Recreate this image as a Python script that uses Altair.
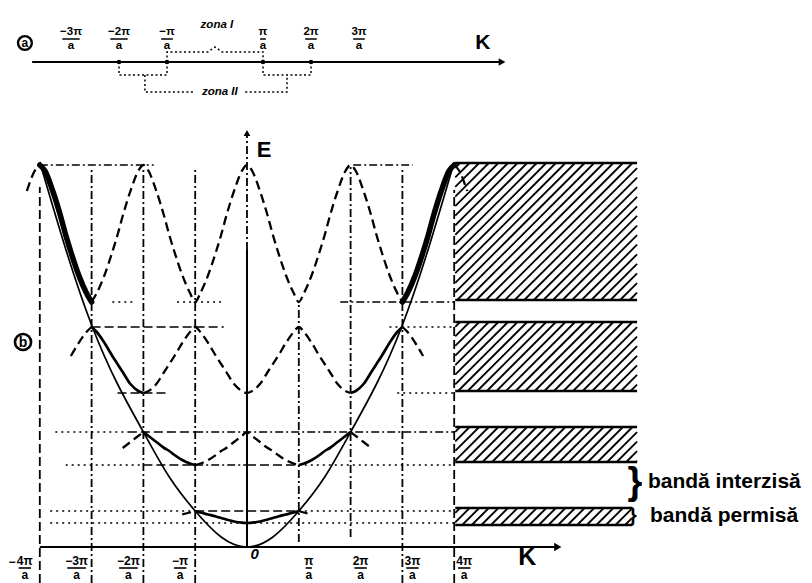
import math
import altair as alt
import pandas as pd

# ---------------- values ----------------
# (b) reduced-zone band curves: energy (arb. units) versus the distance d (in pi/a)
#     from the nearest even multiple of pi/a
D_GRID = [0, 0.1, 0.25, 0.4, 0.5, 0.6, 0.75, 0.9, 1.0]
BAND1_E = [24, 24.3, 25.5, 27.5, 29, 30.5, 32.5, 34.5, 36]
BAND2_E = [115, 111, 105, 99, 96, 92, 87, 83.5, 82]
BAND3_E = [154, 156, 163, 175, 183, 191, 204, 215, 220]
BAND4_E = [382, 376, 356, 331, 312, 295, 272, 254, 245]
BAND_REACH = [1.25, 2.4, 3.4, 4.25]

# free-electron parabola
PARAB_K = [-4, -3.5, -3, -2.5, -2, -1.5, -1, -0.5, 0, 0.5, 1, 1.5, 2, 2.5, 3, 3.5, 4]
PARAB_E = [385, 298, 222, 163, 115, 70, 36, 10, 0, 10, 36, 70, 115, 163, 222, 298, 385]

# allowed bands (hatched)
ALLOWED_LO = [247, 156, 85, 22]
ALLOWED_HI = [384, 225, 120, 39]
ALLOWED_K0 = [4.02, 4.02, 4.02, 4.02]
ALLOWED_K1 = [7.53, 7.53, 7.53, 7.43]

# horizontal guide lines: energy, from K, to K, style
HG_E = [382, 382, 245, 245, 245, 220, 220, 154, 154, 115, 115, 115, 82, 82, 82, 82, 82, 36, 36, 36, 24]
HG_K1 = [-4.0, 2.05, -2.6, -1.35, 1.8, -3.0, 2.75, -2.5, 2.9, -3.7, -2.3, -1.0, -3.5, -2.0, -1.0, 0.0, 1.0, -3.8, -1.0, 1.0, -3.8]
HG_K2 = [-1.8, 3.2, -2.15, -0.5, 4.0, -0.45, 4.0, -1.5, 4.0, -2.3, -1.0, 4.0, -2.0, -1.0, 0.0, 1.0, 4.0, -1.0, 1.0, 4.0, 4.0]
HG_STYLE = ["dashdot", "dashdot", "dot", "dot", "dashdot", "dash", "dot", "dash", "dot", "dot", "dash", "dashdot",
            "dot", "dash", "dashdot", "dash", "dot", "dot", "dash", "dot", "dot"]

# vertical guide lines: K, from E, to E, style
VG_K = [-4, -3, -2, -1, 1, 2, 3, 4, 0]
VG_E1 = [-36, -36, -36, -36, 5, 10, -36, -36, 297]
VG_E2 = [360, 380, 380, 380, 245, 380, 380, 357, 414]
VG_STYLE = ["dash", "dashdot", "dashdot", "dashdot", "dashdot", "dashdot", "dashdot", "dash", "dashdot"]

E_AXIS_TOP_SOLID = 297
E_AXIS_TIP = 414
K_AXIS_START = -4
K_AXIS_END = 6.0

BOT_TICK_K = [-4, -3, -2, -1, 1, 2, 3, 4]
BOT_TICK_NUM = ["4π", "−3π", "−2π", "−π", "π", "2π", "3π", "4π"]

# (a) one-dimensional K axis with the Brillouin zones
TOP_TICK_K = [-3, -2, -1, 1, 2, 3]
TOP_TICK_NUM = ["−3π", "−2π", "−π", "π", "2π", "3π"]
ZONE_BOUNDS = [-2, -1, 1, 2]
TOP_AXIS_START = -3.81
TOP_AXIS_END = 5.98
Z1_K = [-1, -1, -0.15, 0, 0.15, 1, 1]
Z1_V = [0, 10, 10, 15, 10, 10, 0]
Z2L_K = [-2, -2, -1, -1]
Z2L_V = [0, -13, -13, 0]
Z2R_K = [1, 1, 2, 2]
Z2R_V = [0, -13, -13, 0]
Z2CL_K = [-1.46, -1.46, -0.42]
Z2CL_V = [-13, -30, -30]
Z2CR_K = [0.63, 1.5, 1.5]
Z2CR_V = [-30, -30, -13]

FONT = "Liberation Sans"
BLACK = "#000000"

# ---------------- scales ----------------
W = 796
HT = 112
HB = 463
XB_DOM = [-4.614, 10.753]
YB_DOM = [-36, 427]
XT_DOM = [-4.3125, 12.271]
YT_DOM = [-58, 54]
XB = alt.Scale(domain=XB_DOM, nice=False, zero=False)
YB = alt.Scale(domain=YB_DOM, nice=False, zero=False)
XT = alt.Scale(domain=XT_DOM, nice=False, zero=False)
YT = alt.Scale(domain=YT_DOM, nice=False, zero=False)
PX_PER_K = W / (XB_DOM[1] - XB_DOM[0])
PX_PER_KT = W / (XT_DOM[1] - XT_DOM[0])

STYLES = ["dash", "dashdot", "dot"]
DASHES = [[9, 4], [8, 3, 2, 3], [2, 4]]


def xb(f):
    return alt.X(f, type="quantitative", scale=XB, axis=None)


def yb(f):
    return alt.Y(f, type="quantitative", scale=YB, axis=None)


def xt(f):
    return alt.X(f, type="quantitative", scale=XT, axis=None)


def yt(f):
    return alt.Y(f, type="quantitative", scale=YT, axis=None)


dash_enc = alt.StrokeDash("style:N", scale=alt.Scale(domain=STYLES, range=DASHES), legend=None)

# ---------------- panel (b) tables ----------------
curve_rows = []
for n, (prof, reach) in enumerate(zip([BAND1_E, BAND2_E, BAND3_E, BAND4_E], BAND_REACH), start=1):
    pts = {}
    jmax = math.ceil(reach)
    for j in range(-jmax, jmax):
        for t, dv in enumerate(D_GRID):
            k = round(j + dv, 4)
            if abs(k) <= reach + 1e-9:
                idx = t if j % 2 == 0 else len(D_GRID) - 1 - t
                pts[k] = prof[idx]
    ks = sorted(pts)
    segs = [(-reach, -n, "dash"), (-n, -(n - 1), "solid"), (-(n - 1), n - 1, "dash"),
            (n - 1, n, "solid"), (n, reach, "dash")]
    for i, (a, b, st) in enumerate(segs):
        if b - a < 1e-9:
            continue
        if st == "solid" and n == 4:
            st = "heavy"
        for k in ks:
            if a - 1e-9 <= k <= b + 1e-9:
                curve_rows.append(dict(k=k, e=pts[k], seg=f"{n}-{i}", style=st))
curves = pd.DataFrame(curve_rows)

parab = pd.DataFrame({"k": PARAB_K, "e": PARAB_E})

# hatching of the allowed bands (45 degree strokes)
HATCH_STEP = 0.185
hatch_rows = []
edge_rows = []
for lo, hi, k0, k1 in zip(ALLOWED_LO, ALLOWED_HI, ALLOWED_K0, ALLOWED_K1):
    span = (hi - lo) / PX_PER_K
    c = k0 - span + HATCH_STEP * 0.5
    while c < k1:
        sk, se = c, lo
        ek, ee = c + span, hi
        if sk < k0:
            sk, se = k0, lo + (k0 - c) * PX_PER_K
        if ek > k1:
            ek, ee = k1, lo + (k1 - c) * PX_PER_K
        if ek > sk:
            hatch_rows.append(dict(k=sk, e=se, k2=ek, e2=ee))
        c += HATCH_STEP
    edge_rows.append(dict(k=k0, k2=k1, e=lo))
    edge_rows.append(dict(k=k0, k2=k1, e=hi))
hatch = pd.DataFrame(hatch_rows)
edges = pd.DataFrame(edge_rows)

hguides = pd.DataFrame({"e": HG_E, "k": HG_K1, "k2": HG_K2, "style": HG_STYLE})
vguides = pd.DataFrame({"k": VG_K, "e": VG_E1, "e2": VG_E2, "style": VG_STYLE})
e_axis = pd.DataFrame({"k": [0], "e": [0], "e2": [E_AXIS_TOP_SOLID]})
k_axis = pd.DataFrame({"k": [K_AXIS_START], "k2": [K_AXIS_END], "e": [0]})
arrow_up = pd.DataFrame({"k": [0], "e": [E_AXIS_TIP]})
arrow_right = pd.DataFrame({"k": [K_AXIS_END], "e": [0]})

# tick fractions below the K axis (placed beside their line)
NUM_FS = 12
tick_rows = []
for k, num in zip(BOT_TICK_K, BOT_TICK_NUM):
    off = -15 if k < 0 else 10
    kc = k + off / PX_PER_K
    half = (len(num) * 6.2) / 2 / PX_PER_K
    tick_rows.append(dict(k=kc, num=num, kl=kc - half, kr=kc + half))
ticks_b = pd.DataFrame(tick_rows)

# ---------------- panel (b) layers ----------------
hatch_l = alt.Chart(hatch).mark_rule(color=BLACK, strokeWidth=1.8).encode(
    x=xb("k"), y=yb("e"), x2="k2", y2="e2")
edge_l = alt.Chart(edges).mark_rule(color=BLACK, strokeWidth=2.3).encode(
    x=xb("k"), x2="k2", y=yb("e"))
hg_l = alt.Chart(hguides).mark_rule(color=BLACK, strokeWidth=1.5).encode(
    x=xb("k"), x2="k2", y=yb("e"), strokeDash=dash_enc)
vg_l = alt.Chart(vguides).mark_rule(color=BLACK, strokeWidth=1.8).encode(
    x=xb("k"), y=yb("e"), y2="e2", strokeDash=dash_enc)
eax_l = alt.Chart(e_axis).mark_rule(color=BLACK, strokeWidth=2).encode(
    x=xb("k"), y=yb("e"), y2="e2")
kax_l = alt.Chart(k_axis).mark_rule(color=BLACK, strokeWidth=2.2).encode(
    x=xb("k"), x2="k2", y=yb("e"))
aup_l = alt.Chart(arrow_up).mark_point(shape="triangle-up", filled=True, color=BLACK, size=45, opacity=1).encode(
    x=xb("k"), y=yb("e"))
art_l = alt.Chart(arrow_right).mark_point(shape="triangle-right", filled=True, color=BLACK, size=70, opacity=1).encode(
    x=xb("k"), y=yb("e"))

dashed_l = alt.Chart(curves[curves["style"] == "dash"]).mark_line(
    color=BLACK, strokeWidth=2.3, strokeDash=[9, 5], interpolate="monotone").encode(
    x=xb("k"), y=yb("e"), detail="seg:N", order="k:Q")
solid_l = alt.Chart(curves[curves["style"] == "solid"]).mark_line(
    color=BLACK, strokeWidth=2.7, interpolate="monotone").encode(
    x=xb("k"), y=yb("e"), detail="seg:N", order="k:Q")
heavy_l = alt.Chart(curves[curves["style"] == "heavy"]).mark_line(
    color=BLACK, strokeWidth=5.5, interpolate="monotone", strokeCap="round").encode(
    x=xb("k"), y=yb("e"), detail="seg:N", order="k:Q")
parab_l = alt.Chart(parab).mark_line(color=BLACK, strokeWidth=1.7, interpolate="natural").encode(
    x=xb("k"), y=yb("e"))

num_l = alt.Chart(ticks_b).mark_text(font=FONT, fontWeight="bold", fontSize=NUM_FS, baseline="middle",
                                      color=BLACK).encode(
    x=xb("k"), y=alt.Y(datum=-14, type="quantitative", scale=YB, axis=None), text="num:N")
bar_l = alt.Chart(ticks_b).mark_rule(color=BLACK, strokeWidth=1.6).encode(
    x=xb("kl"), x2="kr", y=alt.Y(datum=-21, type="quantitative", scale=YB, axis=None))
den_l = alt.Chart(ticks_b).mark_text(font=FONT, fontWeight="bold", fontSize=NUM_FS, baseline="middle",
                                      color=BLACK, text="a").encode(
    x=xb("k"), y=alt.Y(datum=-28, type="quantitative", scale=YB, axis=None))

texts_b = pd.DataFrame({
    "k": [-4.604, 0.15, 5.41, 0.19],
    "e": [-15, -7, -10, 397],
    "t": ["−", "0", "K", "E"],
})
tb_minus = alt.Chart(texts_b.iloc[[0]]).mark_text(font=FONT, fontWeight="bold", fontSize=12, align="left",
                                                  baseline="middle", color=BLACK).encode(
    x=xb("k"), y=yb("e"), text="t:N")
tb_zero = alt.Chart(texts_b.iloc[[1]]).mark_text(font=FONT, fontWeight="bold", fontStyle="italic", fontSize=15,
                                                 baseline="middle", color=BLACK).encode(
    x=xb("k"), y=yb("e"), text="t:N")
tb_k = alt.Chart(texts_b.iloc[[2]]).mark_text(font=FONT, fontWeight="bold", fontSize=25,
                                              baseline="middle", color=BLACK).encode(
    x=xb("k"), y=yb("e"), text="t:N")
tb_e = alt.Chart(texts_b.iloc[[3]]).mark_text(font=FONT, fontWeight="bold", fontSize=22, align="left",
                                              baseline="middle", color=BLACK).encode(
    x=xb("k"), y=yb("e"), text="t:N")

circ_b = pd.DataFrame({"k": [-4.324], "e": [205], "t": ["b"]})
cb_l = alt.Chart(circ_b).mark_point(shape="circle", filled=False, color=BLACK, strokeWidth=2.6, size=260,
                                    opacity=1).encode(x=xb("k"), y=yb("e"))
cbt_l = alt.Chart(circ_b).mark_text(font=FONT, fontWeight="bold", fontSize=14, baseline="middle",
                                    color=BLACK, dy=1).encode(x=xb("k"), y=yb("e"), text="t:N")

band_txt = pd.DataFrame({
    "k": [7.49, 7.74, 7.45, 7.78],
    "e": [64, 65, 31, 31],
    "t": ["}", "bandă interzisă", "}", "bandă permisă"],
})
brace1 = alt.Chart(band_txt.iloc[[0]]).mark_text(font=FONT, fontSize=38, baseline="middle", color=BLACK,
                                                 fontWeight="bold").encode(x=xb("k"), y=yb("e"), text="t:N")
lab1 = alt.Chart(band_txt.iloc[[1]]).mark_text(font=FONT, fontSize=21, fontWeight="bold", align="left",
                                               baseline="middle", color=BLACK).encode(
    x=xb("k"), y=yb("e"), text="t:N")
brace2 = alt.Chart(band_txt.iloc[[2]]).mark_text(font=FONT, fontSize=20, baseline="middle", color=BLACK,
                                                 fontWeight="bold").encode(x=xb("k"), y=yb("e"), text="t:N")
lab2 = alt.Chart(band_txt.iloc[[3]]).mark_text(font=FONT, fontSize=21, fontWeight="bold", align="left",
                                               baseline="middle", color=BLACK).encode(
    x=xb("k"), y=yb("e"), text="t:N")

bottom = alt.layer(
    hatch_l, edge_l, hg_l, vg_l, eax_l, kax_l, aup_l, art_l,
    dashed_l, solid_l, parab_l, heavy_l,
    num_l, bar_l, den_l, tb_minus, tb_zero, tb_k, tb_e, cb_l, cbt_l,
    brace1, lab1, brace2, lab2,
).properties(width=W, height=HB)

# ---------------- panel (a) ----------------
t_axis = pd.DataFrame({"k": [TOP_AXIS_START], "k2": [TOP_AXIS_END], "v": [0]})
t_arrow = pd.DataFrame({"k": [TOP_AXIS_END], "v": [0]})
t_dots = pd.DataFrame({"k": ZONE_BOUNDS, "v": [0] * len(ZONE_BOUNDS)})
path_rows = []
for name, ks, vs in [("z1", Z1_K, Z1_V), ("z2l", Z2L_K, Z2L_V), ("z2r", Z2R_K, Z2R_V),
                     ("z2cl", Z2CL_K, Z2CL_V), ("z2cr", Z2CR_K, Z2CR_V)]:
    for i, (k, v) in enumerate(zip(ks, vs)):
        path_rows.append(dict(path=name, i=i, k=k, v=v))
t_paths = pd.DataFrame(path_rows)

t_ticks = []
for k, num in zip(TOP_TICK_K, TOP_TICK_NUM):
    half = (len(num) * 5.8) / 2 / PX_PER_KT
    t_ticks.append(dict(k=k, num=num, kl=k - half, kr=k + half))
t_ticks = pd.DataFrame(t_ticks)

ta_l = alt.Chart(t_axis).mark_rule(color=BLACK, strokeWidth=2.2).encode(x=xt("k"), x2="k2", y=yt("v"))
tar_l = alt.Chart(t_arrow).mark_point(shape="triangle-right", filled=True, color=BLACK, size=60,
                                      opacity=1).encode(x=xt("k"), y=yt("v"))
tdot_l = alt.Chart(t_dots).mark_point(shape="circle", filled=True, color=BLACK, size=22, opacity=1).encode(
    x=xt("k"), y=yt("v"))
tpath_l = alt.Chart(t_paths).mark_line(color=BLACK, strokeWidth=1.5, strokeDash=[2, 2.5]).encode(
    x=xt("k"), y=yt("v"), detail="path:N", order="i:Q")
tnum_l = alt.Chart(t_ticks).mark_text(font=FONT, fontWeight="bold", fontSize=11.5, baseline="middle",
                                      color=BLACK).encode(
    x=xt("k"), y=alt.Y(datum=30, type="quantitative", scale=YT, axis=None), text="num:N")
tbar_l = alt.Chart(t_ticks).mark_rule(color=BLACK, strokeWidth=1.5).encode(
    x=xt("kl"), x2="kr", y=alt.Y(datum=23, type="quantitative", scale=YT, axis=None))
tden_l = alt.Chart(t_ticks).mark_text(font=FONT, fontWeight="bold", fontSize=11.5, baseline="middle",
                                      color=BLACK, text="a").encode(
    x=xt("k"), y=alt.Y(datum=16, type="quantitative", scale=YT, axis=None))

t_txt = pd.DataFrame({"k": [0.04, 0.1, 5.58], "v": [37, -30, 19], "t": ["zona I", "zona II", "K"]})
tz_l = alt.Chart(t_txt.iloc[[0, 1]]).mark_text(font=FONT, fontWeight="bold", fontStyle="italic", fontSize=11.5,
                                                baseline="middle", color=BLACK).encode(
    x=xt("k"), y=yt("v"), text="t:N")
tk_l = alt.Chart(t_txt.iloc[[2]]).mark_text(font=FONT, fontWeight="bold", fontSize=21,
                                             baseline="middle", color=BLACK).encode(
    x=xt("k"), y=yt("v"), text="t:N")
circ_a = pd.DataFrame({"k": [-3.96], "v": [19], "t": ["a"]})
ca_l = alt.Chart(circ_a).mark_point(shape="circle", filled=False, color=BLACK, strokeWidth=2.4, size=190,
                                    opacity=1).encode(x=xt("k"), y=yt("v"))
cat_l = alt.Chart(circ_a).mark_text(font=FONT, fontWeight="bold", fontSize=12, baseline="middle",
                                    color=BLACK).encode(x=xt("k"), y=yt("v"), text="t:N")

top = alt.layer(ta_l, tar_l, tdot_l, tpath_l, tnum_l, tbar_l, tden_l, tz_l, tk_l, ca_l, cat_l).properties(
    width=W, height=HT)

chart = alt.vconcat(top, bottom, spacing=0, bounds="flush").properties(
    padding=0, background="white"
).configure_view(stroke=None)

chart.save("out.html", embed_options={"renderer": "svg", "actions": False})
